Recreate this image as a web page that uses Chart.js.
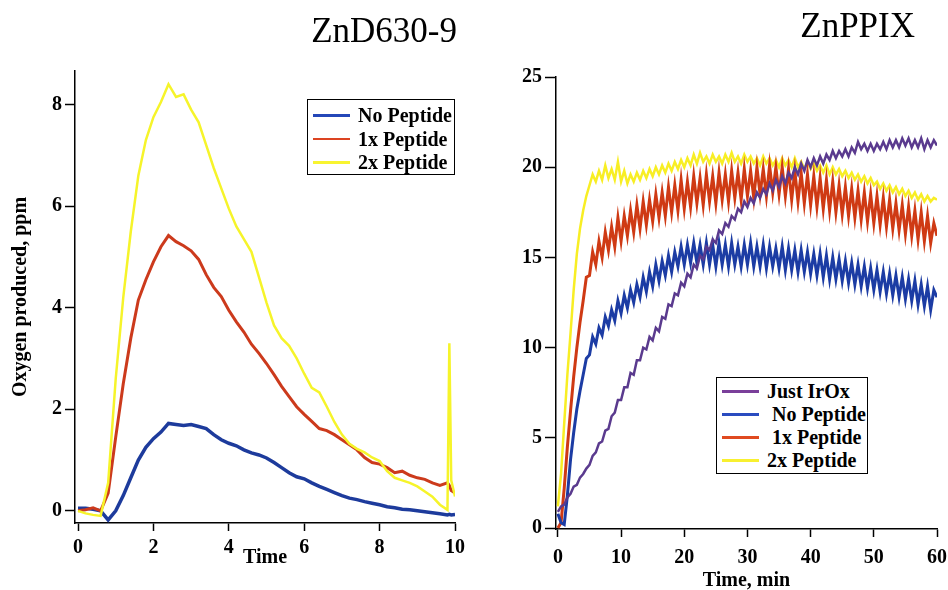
<!DOCTYPE html>
<html>
<head>
<meta charset="utf-8">
<script src="https://cdn.jsdelivr.net/npm/chart.js@4.4.1/dist/chart.umd.min.js"></script>
<style>
  html, body { margin: 0; padding: 0; background: #fff; overflow: hidden; }
  #page { position: relative; width: 948px; height: 590px; overflow: hidden; font-family: "Liberation Serif", "Times New Roman", serif; color: #000; }
  canvas { position: absolute; top: 0; }
  #leftChart { left: 0; }
  #rightChart { left: 480px; }
  .title { position: absolute; font-size: 35px; line-height: 35px; white-space: nowrap; }
  .legend { position: absolute; border: 1.5px solid #000; background: #fff; box-sizing: border-box; }
  .legend .row { position: absolute; left: 0; right: 0; height: 24px; font-size: 20px; font-weight: bold; line-height: 24px; white-space: pre; }
  .legend .swatch { position: absolute; left: 5px; top: 11px; width: 37px; height: 2.5px; }
  .legend .label { position: absolute; left: 50px; top: 0; }
</style>
</head>
<body>
<div id="page">
  <canvas id="leftChart" width="474" height="600"></canvas>
  <canvas id="rightChart" width="468" height="600"></canvas>
  <div class="title" style="right: 491px; top: 13px;">ZnD630-9</div>
  <div class="title" style="right: 33px; top: 8px;">ZnPPIX</div>
  <div class="legend" id="leftLegend" style="left: 307px; top: 99px; width: 148px; height: 76px;"></div>
  <div class="legend" id="rightLegend" style="left: 716px; top: 377px; width: 152px; height: 97px;"></div>
</div>
<script>
// ZnD630-9 panel
const leftTimes = [
  0, 0.2, 0.4, 0.6, 0.8, 1, 1.2, 1.4, 1.6, 1.8,
  2, 2.2, 2.4, 2.6, 2.8, 3, 3.2, 3.4, 3.6, 3.8,
  4, 4.2, 4.4, 4.6, 4.8, 5, 5.2, 5.4, 5.6, 5.8,
  6, 6.2, 6.4, 6.6, 6.8, 7, 7.2, 7.4, 7.6, 7.8,
  8, 8.2, 8.4, 8.6, 8.8, 9, 9.2, 9.4, 9.6, 9.8,
  9.85, 9.9, 10
];
const leftNoPeptide = [
  0.05, 0.05, 0.03, 0.0, -0.18, 0.0, 0.3, 0.65, 1.0, 1.25,
  1.42, 1.55, 1.72, 1.7, 1.68, 1.7, 1.66, 1.62, 1.5, 1.4,
  1.33, 1.28, 1.2, 1.14, 1.1, 1.04, 0.95, 0.85, 0.75, 0.67,
  0.63, 0.55, 0.48, 0.42, 0.36, 0.3, 0.25, 0.22, 0.18, 0.15,
  0.12, 0.08, 0.06, 0.03, 0.02, 0.0, -0.02, -0.04, -0.06, -0.08,
  -0.07, -0.08, -0.07
];
const leftOnePeptide = [
  0.0, 0.02, 0.06, 0.0, 0.35, 1.45, 2.5, 3.4, 4.15, 4.55,
  4.9, 5.2, 5.42, 5.3, 5.22, 5.12, 4.95, 4.65, 4.4, 4.22,
  3.95, 3.72, 3.52, 3.28, 3.1, 2.9, 2.68, 2.45, 2.25, 2.05,
  1.9, 1.76, 1.62, 1.58, 1.5, 1.4, 1.3, 1.2, 1.05, 0.95,
  0.92, 0.85, 0.75, 0.78, 0.7, 0.65, 0.62, 0.55, 0.5, 0.55,
  0.5, 0.4, 0.35
];
const leftTwoPeptide = [
  0.0, -0.05, -0.08, -0.1, 0.55, 2.6, 4.2, 5.5, 6.6, 7.3,
  7.75, 8.05, 8.4, 8.15, 8.2, 7.9, 7.65, 7.2, 6.75, 6.35,
  5.95, 5.6, 5.35, 5.1, 4.6, 4.1, 3.65, 3.4, 3.25, 3.0,
  2.7, 2.42, 2.33, 2.05, 1.75, 1.5, 1.32, 1.22, 1.15, 1.05,
  0.98, 0.78, 0.65, 0.6, 0.55, 0.48, 0.38, 0.28, 0.12, 0.02,
  3.3, 0.6, 0.28
];
const leftNames = ["No Peptide", "1x Peptide", "2x Peptide"];
const leftTicksX = [0, 2, 4, 6, 8, 10];
const leftTicksY = [0, 2, 4, 6, 8];

// ZnPPIX panel, one reading every half minute
const rightTimes = Array.from({ length: 121 }, (_, i) => i / 2);
const rightIrOx = [
  0.9, 1.2, 1.3, 1.7, 1.9, 2.3, 2.4, 2.8, 3.0, 3.3,
  3.5, 4.0, 4.2, 4.7, 4.8, 5.4, 5.5, 6.2, 6.4, 7.1,
  7.1, 7.8, 7.8, 8.6, 8.5, 9.3, 9.3, 10.0, 9.9, 10.6,
  10.4, 11.1, 10.9, 11.7, 11.6, 12.4, 12.3, 13.0, 12.9, 13.6,
  13.4, 14.1, 13.9, 14.6, 14.4, 15.1, 14.9, 15.6, 15.4, 16.0,
  15.8, 16.5, 16.3, 16.9, 16.7, 17.3, 17.1, 17.7, 17.5, 18.1,
  17.8, 18.3, 18.0, 18.6, 18.3, 18.8, 18.5, 19.1, 18.7, 19.3,
  18.9, 19.5, 19.1, 19.7, 19.4, 20.0, 19.6, 20.2, 19.8, 20.4,
  20.0, 20.5, 20.1, 20.6, 20.2, 20.7, 20.4, 20.9, 20.5, 20.9,
  20.6, 21.0, 20.6, 21.1, 20.8, 21.4, 21.0, 21.3, 20.9, 21.3,
  20.9, 21.3, 21.0, 21.4, 21.0, 21.5, 21.1, 21.5, 21.1, 21.6,
  21.2, 21.6, 21.1, 21.5, 21.1, 21.6, 21.0, 21.5, 21.1, 21.5,
  21.2
];
const rightNoPeptide = [
  0.8, 0.3, 0.2, 1.8, 3.8, 5.3, 6.6, 7.6, 8.5, 9.4,
  9.6, 10.6, 10.2, 11.1, 10.7, 11.7, 11.2, 12.1, 11.5, 12.6,
  11.9, 12.9, 12.2, 13.2, 12.5, 13.5, 12.8, 13.9, 13.1, 14.2,
  13.4, 14.6, 13.7, 14.8, 14.0, 15.1, 14.2, 15.3, 14.5, 15.6,
  14.6, 15.7, 14.7, 15.8, 14.7, 15.7, 14.6, 15.8, 14.6, 15.7,
  14.5, 15.8, 14.6, 15.7, 14.5, 15.8, 14.6, 15.6, 14.5, 15.7,
  14.6, 15.8, 14.5, 15.6, 14.5, 15.7, 14.4, 15.6, 14.5, 15.5,
  14.4, 15.6, 14.3, 15.5, 14.3, 15.4, 14.2, 15.4, 14.2, 15.3,
  14.1, 15.2, 14.0, 15.2, 13.9, 15.1, 13.8, 15.0, 13.8, 14.9,
  13.7, 14.8, 13.6, 14.7, 13.5, 14.6, 13.4, 14.5, 13.3, 14.4,
  13.2, 14.3, 13.1, 14.2, 13.0, 14.1, 12.9, 14.0, 12.8, 13.9,
  12.7, 13.8, 12.6, 13.7, 12.4, 13.5, 12.3, 13.4, 12.1, 13.2,
  12.8
];
const rightOnePeptide = [
  0.0, 0.3, 2.2, 4.5, 6.5, 8.4, 10.0, 11.4, 12.6, 13.9,
  14.0, 15.3, 14.6, 15.9, 15.0, 16.4, 15.4, 16.7, 15.6, 17.2,
  15.9, 17.3, 16.2, 17.6, 16.4, 17.9, 16.6, 18.1, 16.8, 18.2,
  17.0, 18.5, 17.2, 18.6, 17.3, 18.9, 17.5, 19.0, 17.6, 19.3,
  17.7, 19.2, 17.8, 19.5, 18.0, 19.4, 17.9, 19.6, 18.1, 19.5,
  18.0, 19.7, 18.2, 19.6, 18.1, 19.8, 18.3, 19.7, 18.2, 19.9,
  18.4, 19.8, 18.3, 20.0, 18.5, 19.9, 18.4, 20.1, 18.6, 20.0,
  18.5, 20.0, 18.4, 19.9, 18.2, 19.8, 18.1, 19.7, 18.0, 19.6,
  17.9, 19.5, 17.8, 19.4, 17.7, 19.3, 17.6, 19.2, 17.5, 19.0,
  17.4, 18.9, 17.3, 18.8, 17.2, 18.7, 17.1, 18.6, 17.0, 18.5,
  16.9, 18.4, 16.8, 18.3, 16.7, 18.2, 16.6, 18.0, 16.5, 17.9,
  16.3, 17.8, 16.2, 17.6, 16.0, 17.5, 15.9, 17.3, 15.8, 16.9,
  16.2
];
const rightTwoPeptide = [
  1.2, 3.0, 5.8, 8.5, 10.8, 13.2, 15.2, 16.6, 17.6, 18.4,
  19.0, 19.6, 19.2, 19.8, 19.3, 20.1, 19.4, 19.9, 19.3, 20.3,
  19.2, 19.8, 19.1, 19.6, 19.2, 19.7, 19.3, 19.8, 19.4, 19.9,
  19.5, 20.0, 19.6, 20.1, 19.7, 20.2, 19.8, 20.3, 19.9, 20.4,
  20.0, 20.5, 20.1, 20.7, 20.2, 20.8, 20.3, 20.6, 20.2, 20.7,
  20.3, 20.6, 20.2, 20.7, 20.3, 20.8, 20.3, 20.6, 20.2, 20.7,
  20.3, 20.6, 20.2, 20.5, 20.1, 20.6, 20.2, 20.5, 20.1, 20.4,
  20.0, 20.5, 20.1, 20.4, 20.0, 20.5, 20.0, 20.3, 19.9, 20.3,
  19.9, 20.2, 19.8, 20.1, 19.7, 20.1, 19.6, 20.0, 19.6, 19.9,
  19.5, 19.8, 19.4, 19.7, 19.3, 19.6, 19.2, 19.5, 19.1, 19.4,
  19.0, 19.2, 18.8, 19.1, 18.7, 19.0, 18.6, 18.9, 18.5, 18.8,
  18.4, 18.7, 18.3, 18.6, 18.2, 18.5, 18.1, 18.4, 18.1, 18.3,
  18.2
];
const rightNames = ["Just IrOx", " No Peptide", " 1x Peptide", "2x Peptide"];
const rightTicksX = [0, 10, 20, 30, 40, 50, 60];
const rightTicksY = [0, 5, 10, 15, 20, 25];

const FONT = "'Liberation Serif', 'Times New Roman', serif";
const tickFont = { family: FONT, size: 20, weight: "bold" };

function toPoints(times, values) {
  return times.map((t, i) => ({ x: t, y: values[i] }));
}

function makeAxis(cfg) {
  const axis = {
    type: "linear",
    min: cfg.min,
    max: cfg.max,
    afterBuildTicks: (scale) => {
      scale.ticks = cfg.ticks.map((v) => ({ value: v }));
    },
    afterFit: (scale) => {
      if (cfg.horizontal) {
        scale.height = cfg.size;
        // let the end labels overhang the plot instead of shrinking it
        scale.paddingLeft = 0;
        scale.paddingRight = 0;
      } else {
        scale.width = cfg.size;
      }
    },
    grid: {
      drawOnChartArea: false,
      drawTicks: true,
      tickLength: cfg.tickLength,
      tickWidth: 1.5,
      tickColor: "#000",
    },
    border: { display: true, color: "#000", width: 1.5 },
    ticks: {
      color: "#000",
      font: tickFont,
      padding: cfg.pad,
      maxRotation: 0,
      autoSkip: false,
    },
    title: { display: false },
  };
  if (cfg.title) {
    axis.title = {
      display: true,
      text: cfg.title,
      color: "#000",
      font: { family: FONT, size: 20, weight: "bold", lineHeight: 1.2 },
      padding: cfg.titlePad,
    };
  }
  return axis;
}

function drawPanel(id, datasets, x, y, padding) {
  const ctx = document.getElementById(id).getContext("2d");
  new Chart(ctx, {
    type: "line",
    data: { datasets: datasets },
    options: {
      responsive: false,
      animation: false,
      devicePixelRatio: 1,
      layout: { padding: padding },
      elements: { point: { radius: 0 }, line: { tension: 0 } },
      plugins: { legend: { display: false }, tooltip: { enabled: false } },
      scales: { x: x, y: y },
    },
  });
}

function buildLegend(id, names, colors, firstRow, rowGap) {
  const box = document.getElementById(id);
  names.forEach((name, i) => {
    const row = document.createElement("div");
    row.className = "row";
    row.style.top = firstRow + i * rowGap - 12 + "px";
    const swatch = document.createElement("span");
    swatch.className = "swatch";
    swatch.style.background = colors[i];
    const label = document.createElement("span");
    label.className = "label";
    label.textContent = name;
    row.appendChild(swatch);
    row.appendChild(label);
    box.appendChild(row);
  });
}

const leftColors = ["#1d3b9c", "#cc3a1c", "#f6f42a"];
const leftLegendColors = ["#2447b8", "#dc4422", "#f8f430"];
drawPanel(
  "leftChart",
  [
    { label: leftNames[2], data: toPoints(leftTimes, leftTwoPeptide), borderColor: leftColors[2], borderWidth: 2.5 },
    { label: leftNames[1], data: toPoints(leftTimes, leftOnePeptide), borderColor: leftColors[1], borderWidth: 3 },
    { label: leftNames[0], data: toPoints(leftTimes, leftNoPeptide), borderColor: leftColors[0], borderWidth: 3.5 },
  ],
  makeAxis({ horizontal: true, min: -0.08, max: 10, ticks: leftTicksX, size: 47, tickLength: 8, pad: 5, title: "Time", titlePad: 0 }),
  makeAxis({ horizontal: false, min: -0.24, max: 8.66, ticks: leftTicksY, size: 75, tickLength: 10, pad: 3, title: "Oxygen produced, ppm", titlePad: { top: 9, bottom: 0 } }),
  { left: 0, right: 19, top: 71, bottom: 30 }
);
buildLegend("leftLegend", leftNames, leftLegendColors, 15, 23.5);

const rightColors = ["#5a3a8e", "#1c3ca4", "#cf3a14", "#f8ee24"];
const rightLegendColors = ["#7a3f9a", "#2a4cc0", "#e04a20", "#f8f030"];
drawPanel(
  "rightChart",
  [
    { label: rightNames[0], data: toPoints(rightTimes, rightIrOx), borderColor: rightColors[0], borderWidth: 2.5 },
    { label: rightNames[1], data: toPoints(rightTimes, rightNoPeptide), borderColor: rightColors[1], borderWidth: 3 },
    { label: rightNames[2], data: toPoints(rightTimes, rightOnePeptide), borderColor: rightColors[2], borderWidth: 3 },
    { label: rightNames[3], data: toPoints(rightTimes, rightTwoPeptide), borderColor: rightColors[3], borderWidth: 2.5 },
  ],
  makeAxis({ horizontal: true, min: -0.3, max: 60, ticks: rightTicksX, size: 64, tickLength: 8, pad: 9, title: "Time, min", titlePad: 0 }),
  makeAxis({ horizontal: false, min: -0.05, max: 25, ticks: rightTicksY, size: 76, tickLength: 11, pad: 3 }),
  { left: 0, right: 11, top: 77, bottom: 7 }
);
buildLegend("rightLegend", rightNames, rightLegendColors, 13, 23);
</script>
</body>
</html>
